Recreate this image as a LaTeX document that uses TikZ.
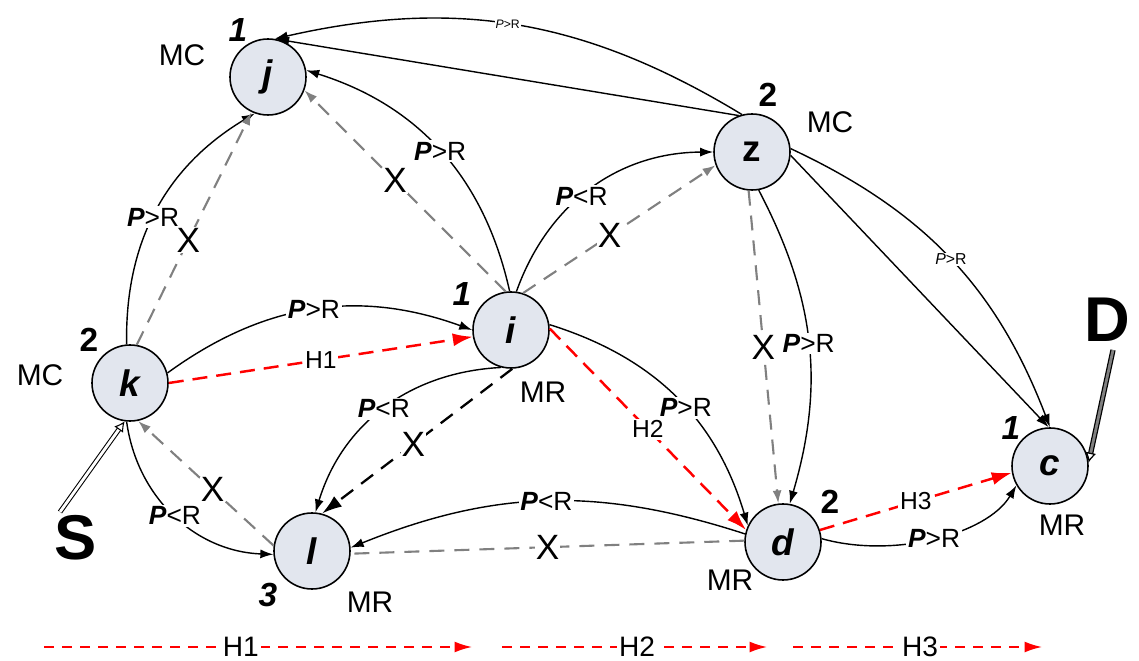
\documentclass[tikz,border=0pt]{standalone}
\usepackage{fontspec}
\setmainfont{Liberation Sans}
\usetikzlibrary{arrows.meta}
\tikzset{>={Latex[length=2.6mm,width=1.8mm]}}
\definecolor{nodefill}{RGB}{226,230,238}
\tikzset{
  router/.style={circle,draw,line width=0.9pt,fill=nodefill,minimum size=15.2mm,inner sep=0pt,font=\fontsize{21}{23}\selectfont\bfseries\itshape},
  tag/.style={font=\fontsize{17}{20}\selectfont},
  num/.style={font=\fontsize{19}{22}\selectfont\bfseries},
  cond/.style={fill=white,text=black,inner sep=1pt,font=\fontsize{15}{17}\selectfont},
  mini/.style={fill=white,text=black,inner sep=0.5pt,font=\fontsize{7}{8}\selectfont},
  cross/.style={fill=white,text=black,inner sep=0.5pt,font=\fontsize{20}{22}\selectfont},
  hlab/.style={fill=white,text=black,inner sep=1pt,font=\fontsize{14}{16}\selectfont},
  link/.style={->,line width=0.8pt},
  blocked/.style={->,gray,line width=1.2pt,dash pattern=on 3mm off 2mm},
  hop/.style={-{Latex[length=4mm,width=2.6mm]},red,line width=1.4pt,dash pattern=on 3mm off 1.8mm},
}
\newcommand{\PgR}{\textbf{\textit{P}}>R}
\newcommand{\PlR}{\textbf{\textit{P}}<R}

\begin{document}
\begin{tikzpicture}[x=0.2mm,y=-0.2mm]
  \useasboundingbox (0,0) rectangle (1139,661);

  % routers
  \node[router] (j) at (268,77) {j};
  \node[router] (z) at (752,152) {\upshape z};
  \node[router] (i) at (511,330) {i};
  \node[router] (k) at (130,383) {k};
  \node[router] (l) at (312,551) {l};
  \node[router] (d) at (783,542) {d};
  \node[router] (c) at (1050,466) {c};

  % numbers and roles
  \node[num] (jn) at (238,30) {\itshape 1};
  \node[tag] (jt) at (182,55) {MC};
  \node[num] (zn) at (768,95) {2};
  \node[tag] (zt) at (830,122) {MC};
  \node[num] (in) at (462,294) {\itshape 1};
  \node[tag] (it) at (543,392) {MR};
  \node[num] (kn) at (89,340) {2};
  \node[tag] (kt) at (40,375) {MC};
  \node[num] (ln) at (268,595) {\itshape 3};
  \node[tag] (lt) at (370,602) {MR};
  \node[num] (dn) at (830,502) {2};
  \node[tag] (dt) at (730,580) {MR};
  \node[num] (cn) at (1011,428) {\itshape 1};
  \node[tag] (ct) at (1062,525) {MR};

  % source and destination
  \node[font=\fontsize{36}{40}\selectfont\bfseries] (S) at (76,538) {S};
  \node[font=\fontsize{36}{40}\selectfont\bfseries] (D) at (1107,320) {D};
  \coordinate (sTail) at (60,512);
  \coordinate (dTail) at (1113,350);
  \draw[double,double distance=1.6pt,line width=0.6pt,-{Latex[length=2mm,width=2.2mm,open]}] (sTail) -- (k.262);
  \draw[double=gray,double distance=1.6pt,line width=0.7pt,-{Latex[length=2mm,width=2.2mm,open]}] (dTail) -- (c.5);

  % k to j
  \draw[link] (k.95) to[bend left=30] node[cond,pos=.47] {\PgR} (j.250);
  \draw[blocked] (k.80) -- node[cross,pos=.45] {X} (j.245);
  % i to j
  \draw[link] (i.92) to[bend right=30] node[cond] {\PgR} (j.10);
  \draw[blocked] (i.98) -- node[cross,pos=.55] {X} (j.340);
  % i to z
  \draw[link] (i.82) to[bend left=35] node[cond,pos=.45] {\PlR} (z.180);
  \draw[blocked] (i.72) -- node[cross,pos=.45] {X} (z.200);
  % z to j
  \draw[link] (z.105) to[bend right=22] node[mini,pos=.52] {\textit{P}>R} (j.80);
  \draw[link] (z.110) -- (j.78);
  % z to c
  \draw[link] (z.5) to[bend left=22] node[mini,font=\fontsize{9}{10}\selectfont] {\textit{P}>R} (c.90);
  \draw[link] (z.355) -- (c.92);
  % z to d
  \draw[link] (z.280) to[bend left=22] node[cond] {\PgR} (d.80);
  \draw[blocked] (z.265) -- node[cross] {X} (d.97);
  % k to i
  \draw[link] (k.15) to[bend left=28] node[cond] {\PgR} (i.180);
  \draw[hop] (k.0) -- node[hlab] {H1} (i.190);
  % i to l
  \draw[link] (i.255) to[bend right=35] node[cond] {\PlR} (l.85);
  \draw[->,line width=1.3pt,dash pattern=on 3mm off 2mm,-{Latex[length=4mm,width=2.6mm]}] (i.272) -- node[cross,pos=.52] {X} (l.75);
  % i to d
  \draw[link] (i.8) to[bend left=28] node[cond,pos=.55] {\PgR} (d.155);
  \draw[hop] (i.2) -- node[hlab] {H2} (d.162);
  % d to l
  \draw[link] (d.168) to[bend right=20] node[cond] {\PlR} (l.5);
  \draw[blocked,-] (d.178) -- node[cross] {X} (l.356);
  % k to l
  \draw[link] (k.265) to[bend right=40] node[cond] {\PlR} (l.185);
  \draw[blocked] (l.172) -- node[cross,pos=.45] {X} (k.282);
  % d to c
  \draw[hop] (d.18) -- node[hlab] {H3} (c.190);
  \draw[link] (d.5) .. controls +(70,20) and +(-30,50) .. node[cond] {\PgR} (c.210);

  % legend
  \coordinate (h1a) at (44,647);
  \coordinate (h1b) at (472,647);
  \coordinate (h2a) at (502,647);
  \coordinate (h2b) at (767,647);
  \coordinate (h3a) at (793,647);
  \coordinate (h3b) at (1042,647);
  \draw[hop,line width=1pt,dash pattern=on 2mm off 1.6mm,-{Latex[length=3.5mm,width=2.2mm]}] (h1a) -- node[hlab,font=\fontsize{16}{18}\selectfont,pos=.46] {H1} (h1b);
  \draw[hop,line width=1pt,dash pattern=on 2mm off 1.6mm,-{Latex[length=3.5mm,width=2.2mm]}] (h2a) -- node[hlab,font=\fontsize{16}{18}\selectfont,pos=.51] {H2} (h2b);
  \draw[hop,line width=1pt,dash pattern=on 2mm off 1.6mm,-{Latex[length=3.5mm,width=2.2mm]}] (h3a) -- node[hlab,font=\fontsize{16}{18}\selectfont,pos=.51] {H3} (h3b);
\end{tikzpicture}
\end{document}
